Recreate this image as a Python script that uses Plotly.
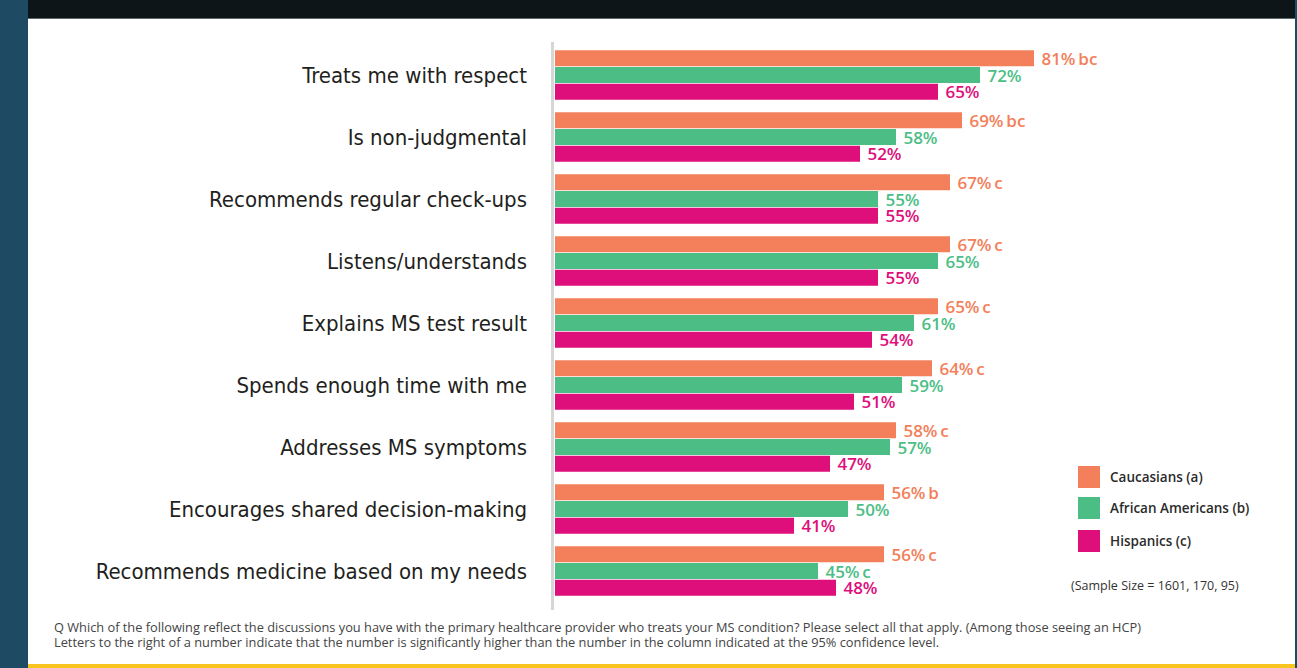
import plotly.graph_objects as go

W, H = 1297, 668

categories = [
    "Treats me with respect",
    "Is non-judgmental",
    "Recommends regular check-ups",
    "Listens/understands",
    "Explains MS test result",
    "Spends enough time with me",
    "Addresses MS symptoms",
    "Encourages shared decision-making",
    "Recommends medicine based on my needs",
]
series_names = ["Caucasians (a)", "African Americans (b)", "Hispanics (c)"]
caucasians = [81, 69, 67, 67, 65, 64, 58, 56, 56]
african_americans = [72, 58, 55, 65, 61, 59, 57, 50, 45]
hispanics = [65, 52, 55, 55, 54, 51, 47, 41, 48]
sig_caucasians = ["bc", "bc", "c", "c", "c", "c", "c", "b", "c"]
sig_african_americans = ["", "", "", "", "", "", "", "", "c"]
sig_hispanics = ["", "", "", "", "", "", "", "", ""]
colors = ["#f3805a", "#4cbe85", "#de0e7a"]

footnote_1 = ("Q Which of the following reflect the discussions you have with the primary healthcare "
              "provider who treats your MS condition? Please select all that apply. (Among those seeing an HCP)")
footnote_2 = ("Letters to the right of a number indicate that the number is significantly higher than "
              "the number in the column indicated at the 95% confidence level.")
sample_note = "(Sample Size = 1601, 170, 95)"

# layout geometry (pixels)
ML, MR, MT, MB = 555, 7, 44, 66
PW = W - ML - MR
PH = H - MT - MB


def px_x(x):
    return (x - ML) / PW


def px_y(y):
    return (H - MB - y) / PH


def labels(vals, sig):
    return ["\u00a0" + f"{v}%" + ("\u2009" + s if s else "") for v, s in zip(vals, sig)]


fig = go.Figure()
for name, vals, sig, col in zip(series_names,
                                [caucasians, african_americans, hispanics],
                                [sig_caucasians, sig_african_americans, sig_hispanics],
                                colors):
    fig.add_trace(go.Bar(
        y=categories, x=vals, orientation="h", name=name,
        marker=dict(color=col, line=dict(width=0)),
        text=labels(vals, sig), textposition="outside", constraintext="none",
        cliponaxis=False,
        textfont=dict(family="Open Sans", size=17, color=col, weight=600),
        showlegend=False, hoverinfo="skip",
    ))

px_per_unit = 6.0
x0 = (ML - 548) / px_per_unit
x1 = x0 + PW / px_per_unit

fig.update_layout(
    width=W, height=H,
    margin=dict(l=ML, r=MR, t=MT, b=MB, pad=0),
    paper_bgcolor="white", plot_bgcolor="white",
    barmode="group", bargap=12 / 62, bargroupgap=0.04,
    xaxis=dict(range=[x0, x1], visible=False, fixedrange=True),
    yaxis=dict(autorange="reversed", showgrid=False, zeroline=False, showline=False,
               ticks="", ticklabelstandoff=27, fixedrange=True,
               tickfont=dict(family="DejaVu Sans Condensed, Roboto, sans-serif", size=22,
                             color="#231f20")),
    font=dict(family="Open Sans"),
)

shapes = [
    # axis line
    dict(type="rect", xref="paper", yref="paper", x0=px_x(551), x1=px_x(554),
         y0=px_y(610), y1=px_y(42), fillcolor="#d6d6d6", line=dict(width=0), layer="above"),
    # left strip
    dict(type="rect", xref="paper", yref="paper", x0=px_x(0), x1=px_x(28),
         y0=px_y(H), y1=px_y(0), fillcolor="#1e4a63", line=dict(width=0)),
    # right strip
    dict(type="rect", xref="paper", yref="paper", x0=px_x(1295), x1=px_x(W),
         y0=px_y(H), y1=px_y(0), fillcolor="#1e4a63", line=dict(width=0)),
    # top band
    dict(type="rect", xref="paper", yref="paper", x0=px_x(28), x1=px_x(1295),
         y0=px_y(18), y1=px_y(0), fillcolor="#0e1519", line=dict(width=0)),
    dict(type="rect", xref="paper", yref="paper", x0=px_x(28), x1=px_x(1295),
         y0=px_y(19), y1=px_y(18), fillcolor="#5d6a6e", line=dict(width=0)),
    # bottom yellow band
    dict(type="rect", xref="paper", yref="paper", x0=px_x(28), x1=px_x(1295),
         y0=px_y(H), y1=px_y(664), fillcolor="#f7c51e", line=dict(width=0)),
]

annotations = []
legend_tops = [466, 497, 530]
for name, col, top in zip(series_names, colors, legend_tops):
    shapes.append(dict(type="rect", xref="paper", yref="paper",
                       x0=px_x(1078), x1=px_x(1100), y0=px_y(top + 22), y1=px_y(top),
                       fillcolor=col, line=dict(width=0)))
    annotations.append(dict(xref="paper", yref="paper", x=px_x(1108), y=px_y(top + 11),
                            text=name, showarrow=False, xanchor="left", yanchor="middle",
                            font=dict(family="Open Sans", size=13.5, color="#2b2b2b", weight=600)))

annotations.append(dict(xref="paper", yref="paper", x=px_x(1069), y=px_y(585), text=sample_note,
                        showarrow=False, xanchor="left", yanchor="middle",
                        font=dict(family="Open Sans", size=12.5, color="#333333")))
annotations.append(dict(xref="paper", yref="paper", x=px_x(52), y=px_y(627), text=footnote_1,
                        showarrow=False, xanchor="left", yanchor="middle",
                        font=dict(family="Open Sans", size=12.8, color="#444444")))
annotations.append(dict(xref="paper", yref="paper", x=px_x(52), y=px_y(642), text=footnote_2,
                        showarrow=False, xanchor="left", yanchor="middle",
                        font=dict(family="Open Sans", size=12.8, color="#444444")))

fig.update_layout(shapes=shapes, annotations=annotations)
fig.write_html("out.html", config={"displayModeBar": False, "staticPlot": True},
               post_script="document.body.style.margin='0';document.body.style.overflow='hidden';")
